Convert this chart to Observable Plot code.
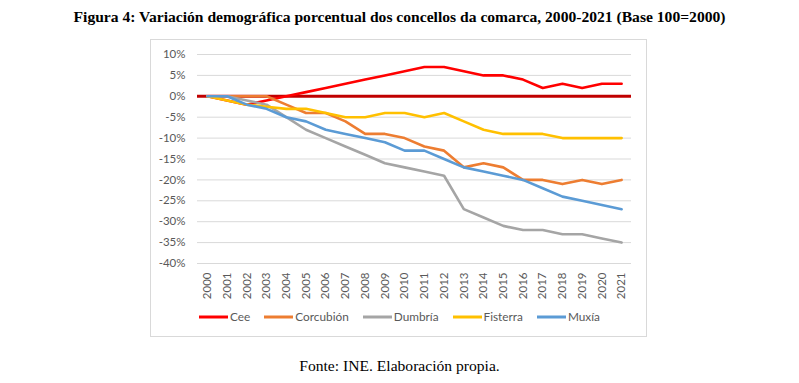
<!DOCTYPE html>
<html>
<head>
<meta charset="utf-8">
<script src="https://cdn.jsdelivr.net/npm/d3@7"></script>
<script src="https://cdn.jsdelivr.net/npm/@observablehq/plot@0.6"></script>
<style>
  html, body { margin: 0; padding: 0; background: #fff; }
  #wrap { position: relative; width: 799px; height: 383px; overflow: hidden; }
  #title { position: absolute; top: 8px; left: 0; width: 799px; text-align: center;
    font-family: "Liberation Serif", "Times New Roman", serif; font-weight: bold; font-size: 15.6px; color: #000; }
  #frame { position: absolute; left: 150px; top: 39px; width: 495px; height: 296px; border: 1px solid #d9d9d9; }
  #chart { position: absolute; left: 0; top: 39px; }
  #legend { position: absolute; top: 309px; left: 0; width: 799px; display: flex; justify-content: center;
    font-family: Lato, sans-serif; font-size: 11.8px; color: #595959; }
  .item { display: flex; align-items: center; margin: 0 7px; }
  .item svg { margin-right: 2px; }
  #caption { position: absolute; top: 357px; left: 0; width: 799px; text-align: center;
    font-family: "Liberation Serif", "Times New Roman", serif; font-size: 15.6px; color: #000; }
</style>
</head>
<body>
<div id="wrap">
  <div id="title">Figura 4: Variación demográfica porcentual dos concellos da comarca, 2000-2021 (Base 100=2000)</div>
  <div id="frame"></div>
  <div id="chart"></div>
  <div id="legend"></div>
  <div id="caption">Fonte: INE. Elaboración propia.</div>
</div>
<script>
const years = [2000,2001,2002,2003,2004,2005,2006,2007,2008,2009,2010,2011,2012,2013,2014,2015,2016,2017,2018,2019,2020,2021];
const names = ["Cee", "Corcubión", "Dumbría", "Fisterra", "Muxía"];
const colors = ["#FF0000", "#ED7D31", "#A5A5A5", "#FFC000", "#5B9BD5"];
const cee       = [0,-1,-2,-1,0,1,2,3,4,5,6,7,7,6,5,5,4,2,3,2,3,3];
const corcubion = [0,0,0,0,-2,-4,-4,-6,-9,-9,-10,-12,-13,-17,-16,-17,-20,-20,-21,-20,-21,-20];
const dumbria   = [0,0,-1,-2,-5,-8,-10,-12,-14,-16,-17,-18,-19,-27,-29,-31,-32,-32,-33,-33,-34,-35];
const fisterra  = [0,-1,-2,-2.5,-3,-3,-4,-5,-5,-4,-4,-5,-4,-6,-8,-9,-9,-9,-10,-10,-10,-10];
const muxia     = [0,0,-2,-3,-5,-6,-8,-9,-10,-11,-13,-13,-15,-17,-18,-19,-20,-22,-24,-25,-26,-27];
const yTicks = [10,5,0,-5,-10,-15,-20,-25,-30,-35,-40];

const series = [cee, corcubion, dumbria, fisterra, muxia];
const data = [];
names.forEach((n, i) => years.forEach((y, j) => data.push({name: n, year: y, value: series[i][j]})));

const chart = Plot.plot({
  width: 799,
  height: 270,
  marginLeft: 197,
  marginRight: 168,
  marginTop: 15,
  marginBottom: 46,
  style: {fontFamily: "Lato, sans-serif", fontSize: "11.5px", color: "#595959", background: "transparent"},
  x: {domain: [1999.5, 2021.5]},
  y: {domain: [-40, 10]},
  color: {domain: names, range: colors},
  marks: [
    Plot.ruleY(yTicks, {stroke: "#d9d9d9", strokeWidth: 1}),
    Plot.ruleY([0], {stroke: "#C00000", strokeWidth: 3}),
    Plot.line(data, {x: "year", y: "value", z: "name", stroke: "name", strokeWidth: 2.6, strokeLinejoin: "round"}),
    Plot.axisY({ticks: yTicks, tickSize: 0, tickPadding: 12, tickFormat: d => d + "%", label: null}),
    Plot.axisX({ticks: years, tickSize: 0, tickPadding: 9, tickRotate: -90, tickFormat: d => String(d), label: null})
  ]
});
document.getElementById("chart").appendChild(chart);

const legend = document.getElementById("legend");
names.forEach((n, i) => {
  const it = document.createElement("div");
  it.className = "item";
  it.innerHTML = `<svg width="29" height="6"><line x1="0" y1="3" x2="29" y2="3" stroke="${colors[i]}" stroke-width="3"/></svg><span>${n}</span>`;
  legend.appendChild(it);
});
</script>
</body>
</html>
